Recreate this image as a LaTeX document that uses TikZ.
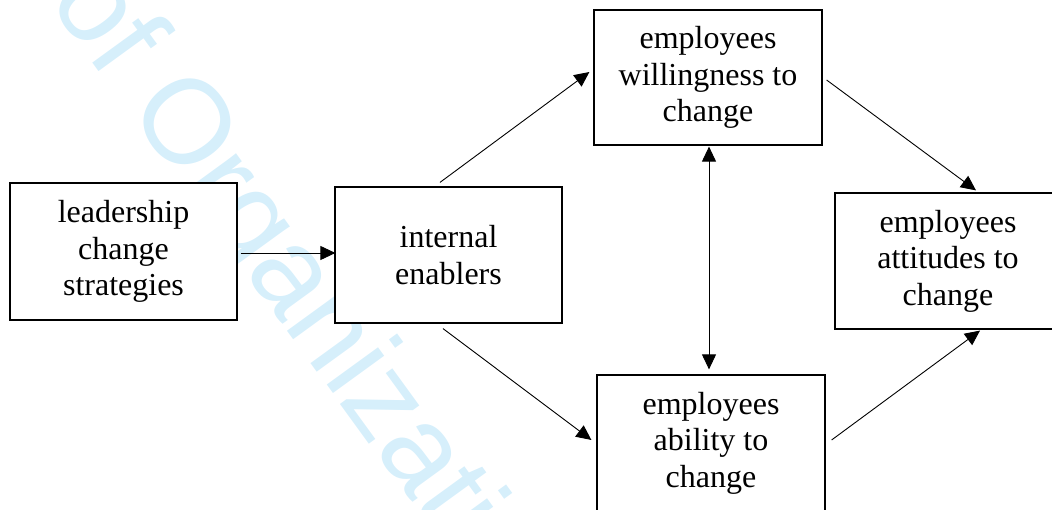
\documentclass[tikz,border=0pt]{standalone}
\usepackage{fontspec}
\setmainfont{Liberation Serif}
\newfontfamily\wmfont{Liberation Sans}
\usetikzlibrary{arrows.meta}
\definecolor{wmblue}{RGB}{214,239,251}
\tikzset{
  box/.style={draw=black, line width=1.2pt, fill=white, rectangle, inner sep=0pt,
    align=center, font=\fontsize{32}{36.5}\selectfont},
  arr/.style={line width=0.9pt, -{Triangle[length=15pt,width=14pt]}},
  darr/.style={line width=0.9pt, {Triangle[length=15pt,width=14pt]}-{Triangle[length=15pt,width=14pt]}}
}
\begin{document}
\begin{tikzpicture}[x=1pt,y=1pt]
\useasboundingbox (0,0) rectangle (1052,510);
\clip (0,0) rectangle (1052,510);
\node[anchor=base west, rotate=-54, inner sep=0pt, text=wmblue,
  font=\wmfont\fontsize{120}{120}\selectfont] (wm) at (47.6,509.2) {of Organizational};
\node[box, minimum width=227pt, minimum height=137pt] (lead) at (123.5,258.5)
  {leadership\\change\\strategies};
\node[box, minimum width=227pt, minimum height=136pt] (inten) at (448.5,255)
  {internal\\enablers};
\node[box, minimum width=228pt, minimum height=135pt] (will) at (708,432.5)
  {employees\\willingness to\\change};
\node[box, minimum width=228pt, minimum height=136pt] (abil) at (711,67)
  {employees\\ability to\\change};
\node[box, minimum width=226pt, minimum height=136pt] (att) at (948,249)
  {employees\\attitudes to\\change};
\draw[arr] ([xshift=3pt,yshift=-1.5pt]lead.east) -- ([xshift=1pt,yshift=2pt]inten.west);
\draw[arr] ([xshift=-8.5pt,yshift=4pt]inten.north) -- ([xshift=-4pt,yshift=5.5pt]will.west);
\draw[arr] ([xshift=-5.5pt,yshift=-5pt]inten.south) -- ([xshift=-5pt,yshift=3pt]abil.west);
\draw[darr] ([xshift=1pt,yshift=-1pt]will.south) -- ([xshift=-2pt,yshift=5pt]abil.north);
\draw[arr] ([xshift=4pt,yshift=-2.5pt]will.east) -- ([xshift=28pt,yshift=2pt]att.north);
\draw[arr] ([xshift=6pt,yshift=3pt]abil.east) -- ([xshift=32pt,yshift=-1pt]att.south);
\end{tikzpicture}
\end{document}
